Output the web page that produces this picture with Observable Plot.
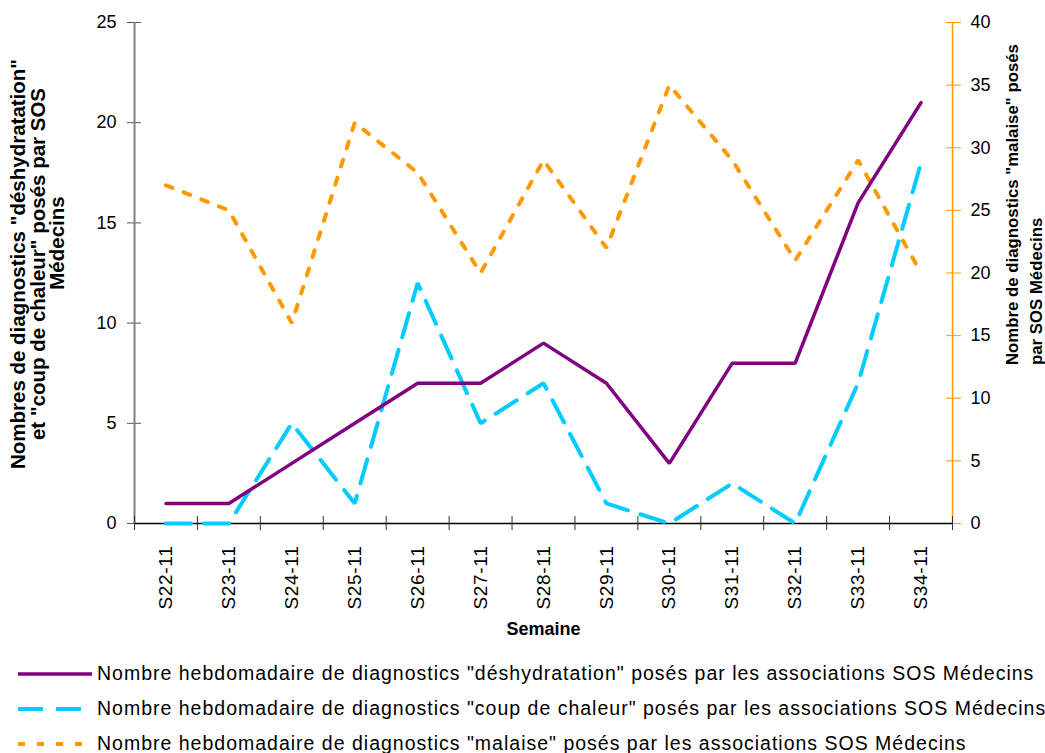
<!DOCTYPE html>
<html>
<head>
<meta charset="utf-8">
<script src="https://cdn.jsdelivr.net/npm/d3@7"></script>
<script src="https://cdn.jsdelivr.net/npm/@observablehq/plot@0.6"></script>
<style>
  body { margin: 0; background: #fff; font-family: "Liberation Sans", Arial, sans-serif; }
  #legend { padding-top: 6px; }
  .row { display: flex; align-items: center; height: 35px; margin-left: 18px; font-size: 19.5px; letter-spacing: 1px; color: #000; white-space: nowrap; }
  .row svg { margin-right: 5px; flex: none; }
  g[aria-label="x-axis tick label"] text { letter-spacing: 0.7px; }
</style>
</head>
<body>
<div id="chart"></div>
<div id="legend"></div>
<script>
// ---- Data ----
const weeks = ["S22-11","S23-11","S24-11","S25-11","S26-11","S27-11","S28-11","S29-11","S30-11","S31-11","S32-11","S33-11","S34-11"];
const deshydratation = [1, 1, 3, 5, 7, 7, 9, 7, 3, 8, 8, 16, 21];
const coupDeChaleur = [0, 0, 5, 1, 12, 5, 7, 1, 0, 2, 0, 7, 18];
const malaise = [27, 25, 16, 32, 28, 20, 29, 22, 35, 29, 21, 29, 20];
const leftTicks = [0, 5, 10, 15, 20, 25];
const rightTicks = [0, 5, 10, 15, 20, 25, 30, 35, 40];
const seriesNames = [
  "Nombre hebdomadaire de diagnostics \"déshydratation\" posés par les associations SOS Médecins",
  "Nombre hebdomadaire de diagnostics \"coup de chaleur\" posés par les associations SOS Médecins",
  "Nombre hebdomadaire de diagnostics \"malaise\" posés par les associations SOS Médecins"
];
const leftTitle12 = "Nombres de diagnostics \"déshydratation\"\net \"coup de chaleur\" posés par SOS";
const leftTitle3 = "Médecins";
const rightTitle = "Nombre de diagnostics \"malaise\" posés\npar SOS Médecins";
const xTitle = "Semaine";

// ---- Styles ----
const colors = ["#800080", "#00CCFF", "#FF9900"];
const dashes = [null, "25,13", "7,12"];
const widths = [3.5, 4, 4];

const leftMax = 25, rightMax = 40;
const k = leftMax / rightMax; // right -> left scale
const idx = weeks.map((_, i) => i);
const rowsD = idx.map(i => ({i, v: deshydratation[i]}));
const rowsC = idx.map(i => ({i, v: coupDeChaleur[i]}));
const rowsM = idx.map(i => ({i, v: malaise[i] * k}));
const bounds = d3.range(-0.5, weeks.length, 1);

const chart = Plot.plot({
  width: 1045,
  height: 650,
  marginLeft: 134,
  marginRight: 93,
  marginTop: 22,
  marginBottom: 127,
  style: {fontFamily: "\"Liberation Sans\", Arial, sans-serif", fontSize: "18px", background: "#fff", color: "#000", overflow: "visible"},
  x: {type: "linear", domain: [-0.5, weeks.length - 0.5]},
  y: {type: "linear", domain: [0, leftMax]},
  marks: [
    // left axis
    Plot.axisY(leftTicks, {anchor: "left", tickSize: 7, tickPadding: 11, stroke: "#555", fill: "#000", fontSize: 18, label: null}),
    Plot.axisY(leftTicks, {anchor: "left", tickSize: -7, stroke: "#555", fill: "none", label: null}),
    Plot.ruleX([-0.5], {stroke: "#808080", strokeWidth: 2}),
    // right axis (scaled)
    Plot.axisY(rightTicks.map(v => v * k), {anchor: "right", tickSize: 8, tickPadding: 10, stroke: "#FF9900", fill: "#000", fontSize: 18, tickFormat: d => String(Math.round(d / k)), label: null}),
    Plot.axisY(rightTicks.map(v => v * k), {anchor: "right", tickSize: -7, stroke: "#FF9900", fill: "none", label: null}),
    Plot.ruleX([weeks.length - 0.5], {stroke: "#FF9900", strokeWidth: 1.5}),
    // bottom axis
    Plot.ruleY([0], {stroke: "#000", strokeWidth: 1.5}),
    Plot.axisX(bounds, {anchor: "bottom", tickSize: 7, stroke: "#333", fill: "none", label: null}),
    Plot.axisX(bounds, {anchor: "bottom", tickSize: -7, stroke: "#333", fill: "none", label: null}),
    Plot.axisX(idx, {anchor: "bottom", tickSize: 0, tickPadding: 22, tickRotate: -90, tickFormat: i => weeks[i], fontSize: 19, fill: "#000", label: null}),
    // series
    Plot.line(rowsM, {x: "i", y: "v", stroke: colors[2], strokeWidth: widths[2], strokeDasharray: dashes[2], strokeLinejoin: "miter"}),
    Plot.line(rowsC, {x: "i", y: "v", stroke: colors[1], strokeWidth: widths[1], strokeDasharray: dashes[1], strokeLinejoin: "miter"}),
    Plot.line(rowsD, {x: "i", y: "v", stroke: colors[0], strokeWidth: widths[0], strokeLinejoin: "miter"}),
    // titles
    Plot.text([leftTitle12], {frameAnchor: "left", textAnchor: "middle", dx: -106, dy: -9, rotate: -90, fontSize: 20.5, fontWeight: "bold", lineHeight: 0.98, fill: "#000"}),
    Plot.text([leftTitle3], {frameAnchor: "left", textAnchor: "middle", dx: -77, dy: -30, rotate: -90, fontSize: 20.5, fontWeight: "bold", fill: "#000"}),
    Plot.text([rightTitle], {frameAnchor: "right", textAnchor: "start", dx: 70, dy: 92, rotate: -90, fontSize: 16.8, fontWeight: "bold", lineHeight: 1.4, fill: "#000"}),
    Plot.text([xTitle], {frameAnchor: "bottom", dy: 111, fontSize: 18, fontWeight: "bold", fill: "#000"})
  ]
});
document.getElementById("chart").appendChild(chart);

// ---- Legend ----
const legend = d3.select("#legend");
seriesNames.forEach((name, s) => {
  const row = legend.append("div").attr("class", "row");
  const svg = row.append("svg").attr("width", 74).attr("height", 12);
  svg.append("line").attr("x1", 0).attr("x2", 74).attr("y1", 6).attr("y2", 6)
    .attr("stroke", colors[s]).attr("stroke-width", widths[s])
    .attr("stroke-dasharray", dashes[s]);
  row.append("span").text(name);
});
</script>
</body>
</html>
